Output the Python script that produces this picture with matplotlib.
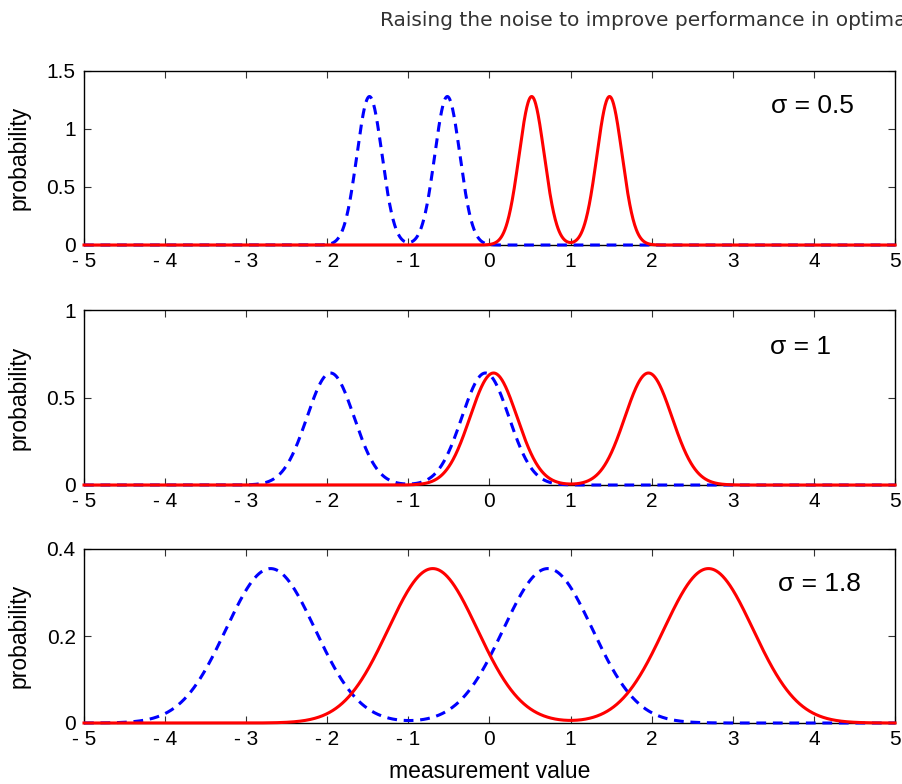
import numpy as np
import matplotlib
matplotlib.use("Agg")
from matplotlib import pyplot as plt

# Values
sigma_labels = ["\u03c3 = 0.5", "\u03c3 = 1", "\u03c3 = 1.8"]
blue_centers = [[-1.48, -0.52], [-1.96, -0.05], [-2.70, 0.72]]
red_centers = [[0.52, 1.48], [0.05, 1.96], [-0.70, 2.70]]
peak_heights = [1.28, 0.64, 0.355]
bump_widths = [0.155, 0.29, 0.55]
y_limits = [1.5, 1.0, 0.4]
y_ticks = [[0, 0.5, 1, 1.5], [0, 0.5, 1], [0, 0.2, 0.4]]
y_tick_labels = [["0", "0.5", "1", "1.5"], ["0", "0.5", "1"], ["0", "0.2", "0.4"]]
x_ticks = [-5, -4, -3, -2, -1, 0, 1, 2, 3, 4, 5]
x_tick_labels = ["- 5", "- 4", "- 3", "- 2", "- 1", "0", "1", "2", "3", "4", "5"]
title_text = "Raising the noise to improve performance in optimal"

plt.rcParams["font.family"] = ["Liberation Sans", "DejaVu Sans"]


def _curve(x, centers, height, width):
    """Two equal bumps, each with the given peak height and width"""
    y = np.zeros_like(x)
    for c in centers:
        y += height * np.exp(-(x - c) ** 2 / (2 * width ** 2))
    return y


fig = plt.figure(figsize=(9.03, 7.84), dpi=100)
fig.text(380 / 903, 1 - 20 / 784, title_text, fontsize=14.5, color="#333333",
         family=["DejaVu Sans"], ha="left", va="center")

boxes = [(71, 245), (310, 485), (549, 723)]
label_pos = [(0.898, 0.80), (0.883, 0.79), (0.907, 0.80)]
x = np.linspace(-5, 5, 2001)

for i in range(3):
    top, bottom = boxes[i]
    ax = fig.add_axes([84 / 903, 1 - bottom / 784, 811 / 903, (bottom - top) / 784])
    ax.plot(x, _curve(x, blue_centers[i], peak_heights[i], bump_widths[i]),
            color="#0000ff", lw=2.2, ls=(0, (3.2, 2.2)), clip_on=False, zorder=3)
    ax.plot(x, _curve(x, red_centers[i], peak_heights[i], bump_widths[i]),
            color="#ff0000", lw=2.2, clip_on=False, zorder=4)
    ax.set_xlim(-5, 5)
    ax.set_ylim(0, y_limits[i])
    ax.set_xticks(x_ticks)
    ax.set_xticklabels(x_tick_labels)
    ax.set_yticks(y_ticks[i])
    ax.set_yticklabels(y_tick_labels[i])
    ax.tick_params(direction="in", top=True, right=True, length=5, width=0.8,
                   labelsize=15, color="#333333")
    ax.tick_params(axis="x", pad=5)
    ax.tick_params(axis="y", pad=6)
    ax.set_ylabel("probability", fontsize=16.5)
    ax.yaxis.set_label_coords(-0.066, 0.5)
    for s in ax.spines.values():
        s.set_linewidth(1.0)
    ax.text(label_pos[i][0], label_pos[i][1], sigma_labels[i], transform=ax.transAxes,
            fontsize=19, ha="center", va="center")
    if i == 2:
        ax.set_xlabel("measurement value", fontsize=16.5)
        ax.xaxis.set_label_coords(0.5, -0.21)

fig.savefig("out.png", dpi=100)
